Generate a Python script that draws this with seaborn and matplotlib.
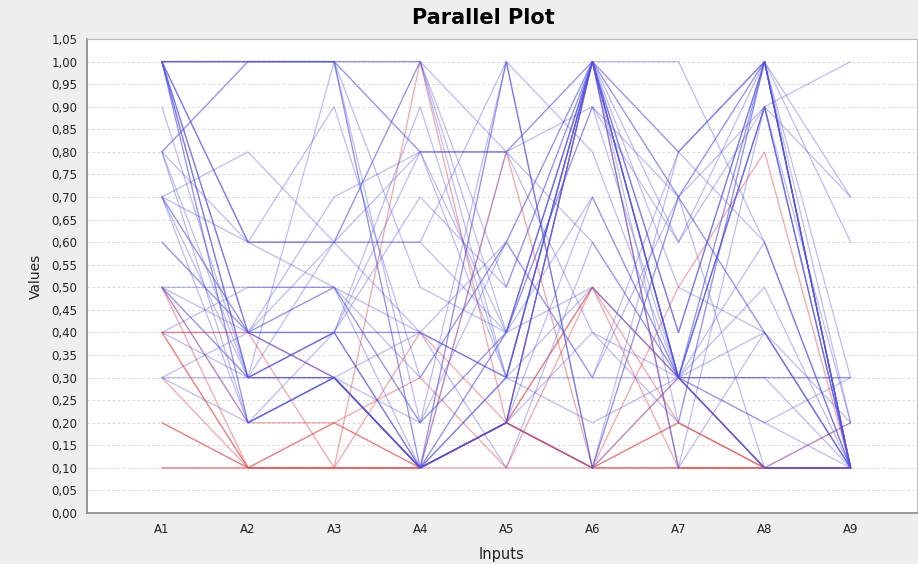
import numpy as np
import pandas as pd
import seaborn as sns
import matplotlib.pyplot as plt

# attribute names on the x axis
inputs = ["A1", "A2", "A3", "A4", "A5", "A6", "A7", "A8", "A9"]

# one list per attribute, one entry per record
a1 = [1.0, 0.8, 1.0, 1.0, 1.0, 0.8, 0.7, 0.5, 0.5, 1.0, 1.0, 0.8, 0.7, 0.3, 0.7, 0.4, 1.0, 0.3, 1.0, 0.6,
      0.9, 0.5, 1.0, 0.8, 1.0, 0.7, 1.0, 0.4, 1.0, 0.3, 0.5, 1.0, 0.7, 1.0, 0.8, 0.5, 0.7, 1.0, 0.6, 1.0,
      0.1, 0.5, 0.4, 0.4, 0.2, 0.5, 0.4, 0.3, 0.1, 0.4, 0.2]
a2 = [1.0, 1.0, 0.3, 0.4, 0.3, 0.6, 0.6, 0.4, 0.3, 0.2, 1.0, 1.0, 0.8, 0.4, 0.3, 0.5, 0.6, 0.3, 0.4, 0.4,
      0.3, 0.5, 0.2, 0.3, 0.3, 0.2, 0.6, 0.3, 1.0, 0.2, 0.2, 0.4, 0.4, 1.0, 0.2, 0.3, 0.4, 0.6, 0.4, 1.0,
      0.1, 0.2, 0.1, 0.4, 0.1, 0.1, 0.1, 0.1, 0.1, 0.4, 0.1]
a3 = [1.0, 1.0, 0.4, 0.3, 0.3, 0.6, 0.9, 0.4, 0.3, 0.3, 1.0, 1.0, 0.6, 0.6, 0.3, 0.5, 0.6, 0.4, 0.7, 0.5,
      1.0, 0.5, 0.4, 0.4, 0.4, 0.3, 0.6, 0.3, 1.0, 0.3, 0.3, 0.3, 0.5, 1.0, 0.3, 0.6, 0.4, 0.5, 0.4, 1.0,
      0.1, 0.2, 0.1, 0.3, 0.1, 0.1, 0.2, 0.1, 0.1, 0.1, 0.2]
a4 = [1.0, 0.8, 0.1, 0.1, 0.2, 0.6, 0.3, 0.4, 0.1, 0.1, 0.5, 1.0, 0.4, 0.8, 0.1, 0.1, 0.6, 0.4, 0.8, 0.2,
      0.2, 0.3, 0.1, 0.9, 0.7, 0.1, 1.0, 0.1, 0.8, 0.1, 0.1, 0.4, 0.2, 0.1, 0.1, 1.0, 0.8, 0.4, 0.1, 0.1,
      0.1, 0.1, 1.0, 0.1, 0.1, 0.1, 0.3, 0.1, 0.4, 0.1, 0.1]
a5 = [0.3, 0.8, 0.2, 0.3, 0.4, 1.0, 0.6, 0.3, 0.2, 0.3, 0.4, 0.5, 0.1, 0.8, 0.2, 0.2, 0.4, 0.3, 0.3, 1.0,
      0.6, 0.6, 0.4, 0.3, 0.5, 0.2, 0.4, 0.3, 0.8, 1.0, 0.2, 0.6, 0.4, 0.8, 0.2, 0.8, 0.4, 0.3, 0.4, 1.0,
      0.2, 0.2, 0.2, 0.2, 0.2, 0.8, 0.1, 0.2, 0.2, 0.1, 0.2]
a6 = [1.0, 0.9, 1.0, 1.0, 1.0, 0.1, 1.0, 0.5, 1.0, 1.0, 1.0, 1.0, 0.6, 0.4, 0.1, 0.7, 0.5, 0.3, 1.0, 0.1,
      1.0, 0.3, 1.0, 1.0, 1.0, 1.0, 0.9, 0.2, 0.6, 0.8, 1.0, 0.3, 0.7, 1.0, 0.4, 1.0, 1.0, 1.0, 0.9, 0.1,
      0.1, 0.1, 0.1, 0.5, 0.1, 0.1, 0.5, 1.0, 0.1, 0.1, 0.5]
a7 = [1.0, 0.7, 0.3, 0.4, 0.3, 0.3, 0.8, 0.3, 0.7, 0.1, 0.3, 0.2, 0.3, 0.2, 0.8, 0.3, 0.3, 0.3, 0.4, 0.7,
      0.1, 0.8, 0.5, 0.3, 0.6, 0.3, 0.3, 0.3, 0.3, 0.3, 0.4, 0.7, 0.3, 0.3, 0.3, 0.8, 0.3, 0.7, 0.6, 0.7,
      0.1, 0.2, 0.2, 0.1, 0.1, 0.5, 0.3, 0.1, 0.3, 0.1, 0.2]
a8 = [0.6, 1.0, 0.9, 1.0, 1.0, 0.9, 1.0, 0.3, 0.4, 0.9, 1.0, 1.0, 0.1, 1.0, 0.6, 0.2, 0.3, 0.3, 1.0, 0.9,
      0.4, 1.0, 0.4, 0.1, 0.9, 0.9, 0.4, 0.5, 0.1, 0.1, 1.0, 1.0, 0.6, 0.1, 0.2, 1.0, 0.9, 0.4, 1.0, 0.1,
      0.1, 0.1, 0.1, 0.1, 0.1, 0.8, 0.1, 0.1, 0.1, 0.1, 0.1]
a9 = [0.1, 0.7, 0.1, 0.1, 0.2, 0.1, 0.1, 0.1, 0.1, 0.1, 0.3, 0.1, 0.1, 0.1, 0.1, 0.3, 0.3, 0.3, 0.6, 0.2,
      0.1, 0.1, 0.1, 0.1, 0.1, 0.7, 0.1, 0.1, 0.1, 0.2, 0.1, 0.1, 0.1, 0.1, 0.1, 0.1, 1.0, 0.2, 0.1, 0.1,
      0.1, 0.1, 0.1, 0.1, 0.1, 0.1, 0.2, 0.1, 0.1, 0.1, 0.1]
# record class: 40 malignant (blue), 11 benign (red)
label = ["malignant"] * 40 + ["benign"] * 11

df = pd.DataFrame(dict(zip(inputs, [a1, a2, a3, a4, a5, a6, a7, a8, a9])))
df["label"] = label
df["id"] = range(len(df))
long = df.melt(id_vars=["id", "label"], var_name="input", value_name="value")
long["pos"] = long["input"].map({k: i for i, k in enumerate(inputs)})

sns.set_style("white")
fig = plt.figure(figsize=(9.18, 5.64), dpi=100, facecolor="#eeeeee")
ax = fig.add_axes([0.0948, 0.0904, 0.904, 0.8404])
ax.set_facecolor("white")

palette = {"malignant": "#5050e8", "benign": "#e85050"}
alphas = {"malignant": 0.38, "benign": 0.5}
# draw benign first so blue sits on top like the reference
for cls in ["benign", "malignant"]:
    sns.lineplot(data=long[long["label"] == cls], x="pos", y="value", units="id",
                 estimator=None, sort=False, color=palette[cls], alpha=alphas[cls],
                 linewidth=0.9, legend=False, ax=ax)

yt = np.arange(0, 1.0501, 0.05)
ax.set_yticks(yt)
ax.set_yticklabels([f"{v:.2f}".replace(".", ",") for v in yt], fontsize=8.5, color="#222222")
ax.set_xticks(range(len(inputs)))
ax.set_xticklabels(inputs, fontsize=8.5, color="#222222")
ax.set_ylim(0, 1.05)
ax.set_xlim(-0.87, 8.77)
ax.tick_params(axis="both", length=3, color="#888888", pad=4)
ax.yaxis.grid(True, linestyle=(0, (3, 3)), color="#d0d0d0", linewidth=0.6)
ax.xaxis.grid(False)
ax.set_axisbelow(True)
for s in ["left", "bottom"]:
    ax.spines[s].set_color("#888888")
    ax.spines[s].set_linewidth(1.2)
for s in ["top", "right"]:
    ax.spines[s].set_color("#bbbbbb")

ax.set_xlabel("Inputs", fontsize=10.5, color="#222222", labelpad=8)
ax.set_ylabel("Values", fontsize=10, color="#222222", labelpad=6)
fig.suptitle("Parallel Plot", x=0.527, y=0.985, fontsize=15, fontweight="heavy", color="black")

fig.savefig("out.png", dpi=100, facecolor=fig.get_facecolor())
